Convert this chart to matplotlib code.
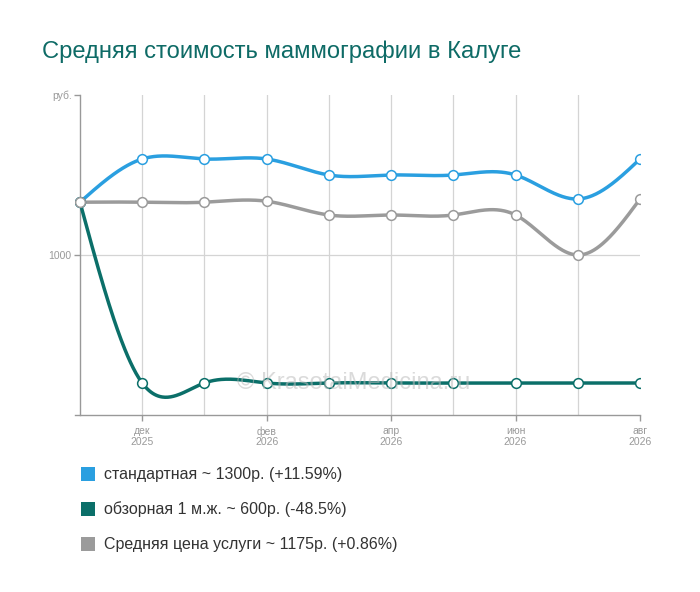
import numpy as np
import matplotlib.pyplot as plt

# ── Data ──────────────────────────────────────────────────────────────────────
months = ["ноя\n2025", "дек\n2025", "янв\n2026", "фев\n2026", "мар\n2026",
          "апр\n2026", "май\n2026", "июн\n2026", "июл\n2026", "авг\n2026"]
standard = [1165, 1300, 1300, 1300, 1250, 1250, 1250, 1250, 1175, 1300]
overview = [1165, 600, 600, 600, 600, 600, 600, 600, 600, 600]
average = [1165, 1165, 1165, 1168, 1125, 1125, 1125, 1125, 1000, 1175]

legend_labels = ["стандартная ~ 1300р. (+11.59%)",
                 "обзорная 1 м.ж. ~ 600р. (-48.5%)",
                 "Средняя цена услуги ~ 1175р. (+0.86%)"]

C_BLUE = "#2a9fe0"
C_TEAL = "#0b6f69"
C_GREY = "#9b9b9b"
C_TITLE = "#0e6b66"
C_AXIS = "#999999"

plt.rcParams["font.family"] = ["Liberation Sans", "DejaVu Sans"]


# ── Natural cubic spline (smooth curves like the original) ────────────────────
def natural_spline(x, y, n=600):
    x = np.asarray(x, float)
    y = np.asarray(y, float)
    k = len(x)
    h = np.diff(x)
    A = np.zeros((k, k))
    b = np.zeros(k)
    A[0, 0] = A[-1, -1] = 1.0
    for i in range(1, k - 1):
        A[i, i - 1] = h[i - 1]
        A[i, i] = 2 * (h[i - 1] + h[i])
        A[i, i + 1] = h[i]
        b[i] = 6 * ((y[i + 1] - y[i]) / h[i] - (y[i] - y[i - 1]) / h[i - 1])
    M = np.linalg.solve(A, b)
    xs = np.linspace(x[0], x[-1], n)
    idx = np.clip(np.searchsorted(x, xs) - 1, 0, k - 2)
    x0, x1 = x[idx], x[idx + 1]
    hh = x1 - x0
    t0, t1 = x1 - xs, xs - x0
    ys = (M[idx] * t0**3 / (6 * hh) + M[idx + 1] * t1**3 / (6 * hh)
          + (y[idx] / hh - M[idx] * hh / 6) * t0
          + (y[idx + 1] / hh - M[idx + 1] * hh / 6) * t1)
    return xs, ys


# ── Figure ────────────────────────────────────────────────────────────────────
fig = plt.figure(figsize=(7.0, 5.92), dpi=100)
fig.patch.set_facecolor("white")
ax = fig.add_axes([75 / 700, 1 - 415 / 592, 565 / 700, 320 / 592])

x = np.arange(len(months))
series = [(standard, C_BLUE), (overview, C_TEAL), (average, C_GREY)]
for vals, col in series:
    xs, ys = natural_spline(x, vals)
    ax.plot(xs, ys, color=col, lw=2.5, solid_capstyle="round", zorder=3)
for vals, col in series:
    ax.plot(x, vals, "o", ms=7, mfc="white", mec=col, mew=1.1, zorder=4)

ax.set_xlim(-0.08, 9)
ax.set_ylim(500, 1500)

for xi in range(1, 9):
    ax.axvline(xi, color="#d4d4d4", lw=0.9, zorder=1)
ax.axhline(1000, xmin=0.08 / 9.08, color="#d4d4d4", lw=0.9, zorder=1)

for s in ["top", "right"]:
    ax.spines[s].set_visible(False)
ax.spines["left"].set_position(("data", 0))
ax.spines["left"].set_color(C_AXIS)
ax.spines["bottom"].set_color(C_AXIS)
ax.spines["left"].set_linewidth(1)
ax.spines["bottom"].set_linewidth(1)

ax.set_yticks([1000, 1500])
ax.set_yticklabels(["1000", "руб."])
ax.set_xticks(x[1::2])
ax.set_xticklabels(months[1::2])
ax.tick_params(axis="both", colors=C_AXIS, labelsize=7.5, length=4, width=1,
               pad=2)
ax.tick_params(axis="x", pad=4)
for lab in ax.get_xticklabels():
    lab.set_linespacing(1.1)

# watermark
ax.text(4.39, 600, "© KrasotaiMedicina.ru", ha="center", va="center",
        fontsize=17, color="#bdbdbd", alpha=0.55, zorder=5)

# title
fig.text(42 / 700, 1 - 52 / 592, "Средняя стоимость маммографии в Калуге",
         ha="left", va="center", fontsize=17.1, color=C_TITLE)

# legend
for i, (lab, (_, col)) in enumerate(zip(legend_labels, series)):
    yc = 1 - (474 + 35 * i) / 592
    fig.patches.append(plt.Rectangle((81 / 700, yc - 7 / 592), 14 / 700,
                                     14 / 592, transform=fig.transFigure,
                                     facecolor=col, edgecolor="none"))
    fig.text(104 / 700, yc, lab, ha="left", va="center", fontsize=11.5,
             color="#333333")

plt.savefig("out.png", dpi=100, facecolor="white")
